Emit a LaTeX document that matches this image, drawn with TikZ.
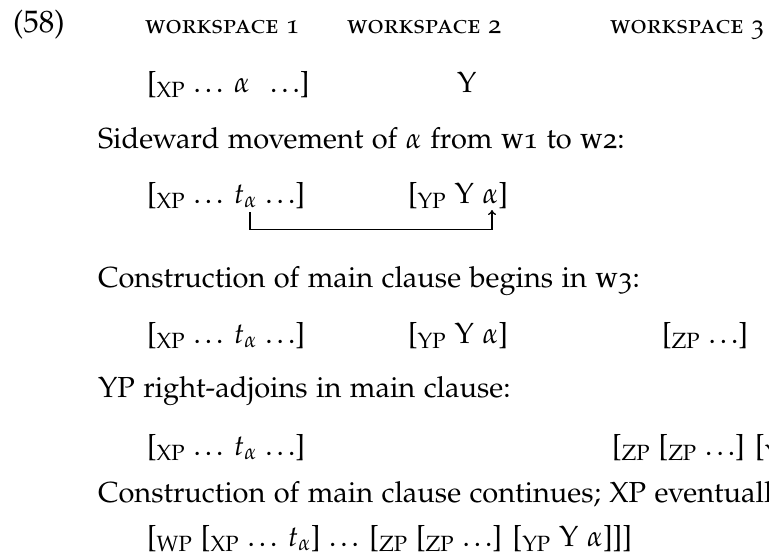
\documentclass[tikz,border=0pt]{standalone}
\usepackage[T1]{fontenc}
\usepackage[osf]{mathpazo}
\usetikzlibrary{arrows.meta}
\newcommand{\eld}{.\kern0.14em.\kern0.14em.}
\tikzset{
  txt/.style={font=\fontsize{29}{35}\selectfont, inner sep=0pt, outer sep=0pt, anchor=base west},
  exnum/.style={font=\fontsize{31}{37}\selectfont, inner sep=0pt, outer sep=0pt, anchor=base west},
  wsp/.style={font=\fontsize{26.5}{32}\selectfont\scshape, inner sep=0pt, outer sep=0pt, anchor=base west},
  mover/.style={line width=1.3pt, -{To[length=5pt,width=8pt]}}
}
\begin{document}
\begin{tikzpicture}[x=1pt,y=-1pt]
\useasboundingbox (0,0) rectangle (769,557);
\clip (0,0) rectangle (769,557);
% header
\node[exnum] (ex) at (13,32) {{\fontfamily{ppl}\selectfont(58)}};
\node[wsp] (ws1) at (145,33) {workspace 1};
\node[wsp] (ws2) at (347,33) {workspace 2};
\node[wsp] (ws3) at (610,33) {workspace 3};
% row 1
\node[txt] (r1a) at (147,92) {[\textsubscript{XP} \eld{} $\alpha$\hspace{0.4em} \eld]};
\node[txt] (r1b) at (457,92) {Y};
% caption 1
\node[txt] (c1) at (98,148) {Sideward movement of $\alpha$ from \textsc{w1} to \textsc{w2}:};
% row 2
\node[txt] (r2a) at (147,203) {[\textsubscript{XP} \eld{} $t_\alpha$ \eld]};
\node[txt] (r2b) at (408,203) {[\textsubscript{YP} Y $\alpha$]};
\coordinate (tr) at (250,212);
\coordinate (ar) at (492,210);
\draw[mover] (tr) -- ++(0,17.5) -| (ar);
% caption 2
\node[txt] (c2) at (98,287) {Construction of main clause begins in \textsc{w3}:};
% row 3
\node[txt] (r3a) at (147,343) {[\textsubscript{XP} \eld{} $t_\alpha$ \eld]};
\node[txt] (r3b) at (408,343) {[\textsubscript{YP} Y $\alpha$]};
\node[txt] (r3c) at (662,343) {[\textsubscript{ZP} \eld]};
% caption 3
\node[txt] (c3) at (98,397) {YP right-adjoins in main clause:};
% row 4
\node[txt] (r4a) at (147,455) {[\textsubscript{XP} \eld{} $t_\alpha$ \eld]};
\node[txt] (r4b) at (612,455) {[\textsubscript{ZP} [\textsubscript{ZP} \eld] [\textsubscript{YP} Y $\alpha$]]};
% caption 4
\node[txt] (c4) at (98,502) {Construction of main clause continues; XP eventually};
% row 5
\node[txt] (r5) at (147,546) {[\textsubscript{WP} [\textsubscript{XP} \eld{} $t_\alpha$] \eld{} [\textsubscript{ZP} [\textsubscript{ZP} \eld] [\textsubscript{YP} Y $\alpha$]]]};
\end{tikzpicture}
\end{document}
